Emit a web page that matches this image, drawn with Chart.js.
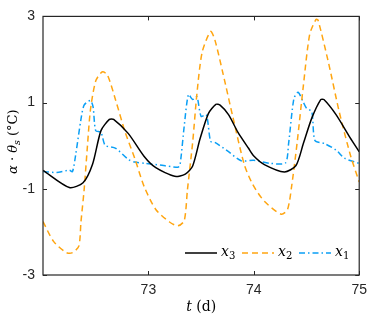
<!DOCTYPE html>
<html>
<head>
<meta charset="utf-8">
<script src="https://cdn.jsdelivr.net/npm/chart.js@4.4.0/dist/chart.umd.min.js"></script>
<style>
  html, body { margin: 0; padding: 0; background: #fff; }
  #wrap { width: 374px; height: 319px; }
</style>
</head>
<body>
<div id="wrap"><canvas id="chart" width="374" height="319"></canvas></div>
<script>
// values (t in days)
const x3Time = [72.0, 72.25, 72.38, 72.47, 72.55, 72.63, 72.67, 72.81, 72.96, 73.07, 73.25, 73.35, 73.42, 73.49, 73.57, 73.64, 73.68, 73.76, 73.85, 73.95, 74.0, 74.1, 74.29, 74.4, 74.47, 74.55, 74.635, 74.665, 74.78, 74.91, 75.0];
const x3Vals = [-0.57, -0.97, -0.86, -0.43, 0.35, 0.61, 0.61, 0.28, -0.25, -0.51, -0.71, -0.66, -0.47, 0.16, 0.75, 0.96, 0.94, 0.72, 0.31, -0.06, -0.24, -0.44, -0.61, -0.46, 0.05, 0.64, 1.07, 1.07, 0.72, 0.2, -0.14];

const x2Time = [72.0, 72.1, 72.22, 72.28, 72.34, 72.36, 72.39, 72.42, 72.45, 72.5, 72.56, 72.61, 72.69, 72.78, 72.87, 72.96, 73.07, 73.2, 73.28, 73.34, 73.37, 73.42, 73.46, 73.51, 73.59, 73.63, 73.71, 73.8, 73.91, 73.99, 74.1, 74.26, 74.32, 74.36, 74.41, 74.47, 74.53, 74.59, 74.61, 74.71, 74.81, 74.92, 75.0];
const x2Vals = [-1.76, -2.22, -2.48, -2.48, -2.33, -1.77, -1.03, -0.06, 0.83, 1.5, 1.71, 1.65, 1.05, 0.31, -0.29, -0.95, -1.48, -1.77, -1.86, -1.74, -1.03, 0.08, 1.2, 2.17, 2.65, 2.46, 1.65, 0.68, -0.44, -0.9, -1.29, -1.59, -1.48, -0.92, 0.05, 1.39, 2.58, 2.93, 2.91, 1.91, 0.79, -0.25, -0.84];

const x1Time = [72.0, 72.13, 72.25, 72.28, 72.31, 72.36, 72.39, 72.45, 72.475, 72.5, 72.55, 72.59, 72.69, 72.81, 72.87, 72.97, 73.11, 73.28, 73.3, 73.34, 73.38, 73.42, 73.46, 73.5, 73.55, 73.59, 73.63, 73.76, 73.88, 74.0, 74.16, 74.3, 74.33, 74.38, 74.42, 74.47, 74.5, 74.55, 74.58, 74.67, 74.78, 74.86, 75.0];
const x1Vals = [-0.6, -0.62, -0.57, -0.6, -0.21, 0.61, 0.94, 1.05, 0.9, 0.35, 0.31, 0.01, -0.06, -0.32, -0.38, -0.41, -0.45, -0.5, -0.45, 0.46, 1.19, 1.07, 1.14, 0.68, 0.72, 0.1, 0.08, -0.14, -0.35, -0.34, -0.41, -0.4, 0.05, 1.09, 1.24, 1.01, 0.87, 0.79, 0.12, 0.05, -0.1, -0.29, -0.41];

const xTicks = [73, 74, 75];
const yTicks = [-3, -1, 1, 3];

const seriesNames = ["3", "2", "1"];
const seriesColors = ["#000000", "#ffa510", "#0a9ff5"];
const seriesDash = [[], [6, 4], [6, 3, 1.5, 3]];

const toPoints = (ts, vs) => ts.map((t, i) => ({ x: t, y: vs[i] }));

const axisColor = "#262626";
const serif = "'DejaVu Serif', 'Liberation Serif', serif";
const sans = "'Liberation Sans', Arial, sans-serif";

// draw a run of text pieces {t, it, sub}
function richText(ctx, parts, x, y, size, align) {
  const fontOf = p => (p.it ? "italic " : "") + (p.sub ? size * 0.72 : size) + "px " + serif;
  let w = 0;
  parts.forEach(p => { ctx.font = fontOf(p); w += ctx.measureText(p.t).width; });
  let cx = align === "center" ? x - w / 2 : x;
  ctx.textBaseline = "middle";
  ctx.textAlign = "left";
  parts.forEach(p => {
    ctx.font = fontOf(p);
    ctx.fillText(p.t, cx, p.sub ? y + size * 0.3 : y);
    cx += ctx.measureText(p.t).width;
  });
}

const decorPlugin = {
  id: "decor",
  afterDraw(chart) {
    const { ctx, chartArea: a, scales } = chart;
    ctx.save();
    // box and inward ticks
    ctx.strokeStyle = axisColor;
    ctx.lineWidth = 1.2;
    ctx.strokeRect(a.left, a.top, a.right - a.left, a.bottom - a.top);
    ctx.lineWidth = 1;
    ctx.beginPath();
    xTicks.forEach(v => {
      const px = Math.round(scales.x.getPixelForValue(v)) + 0.5;
      ctx.moveTo(px, a.bottom); ctx.lineTo(px, a.bottom - 4);
      ctx.moveTo(px, a.top); ctx.lineTo(px, a.top + 4);
    });
    yTicks.forEach(v => {
      const py = Math.round(scales.y.getPixelForValue(v)) + 0.5;
      ctx.moveTo(a.left, py); ctx.lineTo(a.left + 4, py);
      ctx.moveTo(a.right, py); ctx.lineTo(a.right - 4, py);
    });
    ctx.stroke();

    // legend inside, bottom right
    const ly = 253;
    const starts = [185, 242, 299];
    ctx.lineWidth = 1.5;
    starts.forEach((sx, i) => {
      ctx.strokeStyle = seriesColors[i];
      ctx.setLineDash(seriesDash[i]);
      ctx.beginPath();
      ctx.moveTo(sx, ly); ctx.lineTo(sx + 32, ly);
      ctx.stroke();
      ctx.setLineDash([]);
      ctx.fillStyle = "#000";
      richText(ctx, [{ t: "x", it: true }, { t: seriesNames[i], sub: true }], sx + 36, ly - 1, 14, "left");
    });

    // axis titles
    ctx.fillStyle = "#000";
    richText(ctx, [{ t: "t", it: true }, { t: " (d)" }], (a.left + a.right) / 2, 307, 14, "center");
    ctx.translate(14, (a.top + a.bottom) / 2 - 4);
    ctx.rotate(-Math.PI / 2);
    richText(ctx, [{ t: "α", it: true }, { t: " · " }, { t: "θ", it: true }, { t: "s", it: true, sub: true }, { t: " (°C)" }], 0, 0, 13, "center");
    ctx.restore();
  }
};

new Chart(document.getElementById("chart"), {
  type: "line",
  data: {
    datasets: [
      { label: "x3", data: toPoints(x3Time, x3Vals) },
      { label: "x2", data: toPoints(x2Time, x2Vals) },
      { label: "x1", data: toPoints(x1Time, x1Vals) }
    ].map((d, i) => Object.assign(d, {
      borderColor: seriesColors[i],
      borderDash: seriesDash[i],
      borderWidth: 1.5,
      pointRadius: 0,
      tension: 0.25,
      fill: false
    }))
  },
  options: {
    responsive: false,
    animation: false,
    layout: { padding: { top: 6, right: 8, left: 0, bottom: 0 } },
    plugins: { legend: { display: false }, tooltip: { enabled: false } },
    scales: {
      x: {
        type: "linear",
        min: 72, max: 75,
        grid: { display: false, drawTicks: false },
        border: { display: false },
        afterBuildTicks: s => { s.ticks = xTicks.map(v => ({ value: v })); },
        afterFit: s => { s.height = 44; },
        ticks: { color: axisColor, font: { family: sans, size: 14 }, padding: 7, maxRotation: 0 }
      },
      y: {
        min: -3, max: 3,
        grid: { display: false, drawTicks: false },
        border: { display: false },
        afterBuildTicks: s => { s.ticks = yTicks.map(v => ({ value: v })); },
        afterFit: s => { s.width = 43; },
        ticks: { color: axisColor, font: { family: sans, size: 14 }, padding: 8 }
      }
    }
  },
  plugins: [decorPlugin]
});
</script>
</body>
</html>
